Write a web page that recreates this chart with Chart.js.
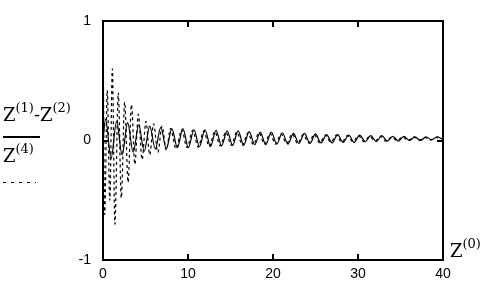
<!DOCTYPE html>
<html>
<head>
<meta charset="utf-8">
<script src="https://cdn.jsdelivr.net/npm/chart.js@4/dist/chart.umd.min.js"></script>
<style>
  html, body { margin: 0; padding: 0; background: #fff; }
  #wrap { width: 488px; height: 288px; }
</style>
</head>
<body>
<div id="wrap"><canvas id="chart" width="488" height="288"></canvas></div>
<script>
// x ticks and y ticks
const xTicks = [0, 10, 20, 30, 40];
const yTicks = [-1, 0, 1];

// Z(1) - Z(2), solid
const diffX = [0, 0.3, 0.95, 1.6, 2.25, 2.9, 3.55, 4.2, 4.85, 5.5, 6.15, 6.8, 7.45, 8.1, 8.75, 9.4,
  10.05, 10.7, 11.35, 12.0, 12.65, 13.3, 13.95, 14.6, 15.25, 15.9, 16.55, 17.2, 17.85, 18.5, 19.15, 19.8,
  20.45, 21.1, 21.75, 22.4, 23.05, 23.7, 24.35, 25.0, 25.65, 26.3, 26.95, 27.6, 28.25, 28.9, 29.55,
  30.2, 30.85, 31.5, 32.15, 32.8, 33.45, 34.1, 34.75, 35.4, 36.05, 36.7, 37.35, 38.0, 38.65, 39.3, 39.95];
const diffY = [0, 0.18, -0.15, 0.16, -0.12, 0.15, -0.1, 0.13, -0.09, 0.12, -0.07, 0.11, -0.07, 0.1, -0.06, 0.1,
  -0.06, 0.09, -0.05, 0.09, -0.05, 0.085, -0.045, 0.08, -0.04, 0.08, -0.04, 0.075, -0.035, 0.07, -0.035, 0.07,
  -0.03, 0.065, -0.03, 0.06, -0.025, 0.06, -0.025, 0.055, -0.02, 0.05, -0.02, 0.05, -0.015, 0.045, -0.015,
  0.045, -0.01, 0.04, -0.01, 0.04, -0.005, 0.035, -0.005, 0.035, 0, 0.03, 0, 0.03, 0.005, 0.03, 0.01];

// Z(4), dotted
const z4X = [0, 0.2, 0.5, 0.8, 1.1, 1.4, 1.8, 2.15, 2.55, 2.95, 3.35, 3.75, 4.15, 4.6, 5.05, 5.5, 5.95, 6.45, 6.95, 7.45,
  7.95, 8.6, 9.25, 9.9, 10.55, 11.2, 11.85, 12.5, 13.15, 13.8, 14.45, 15.1, 15.75, 16.4, 17.05, 17.7, 18.35, 19.0, 19.65,
  20.3, 20.95, 21.6, 22.25, 22.9, 23.55, 24.2, 24.85, 25.5, 26.15, 26.8, 27.45, 28.1, 28.75, 29.4,
  30.05, 30.7, 31.35, 32.0, 32.65, 33.3, 33.95, 34.6, 35.25, 35.9, 36.55, 37.2, 37.85, 38.5, 39.15, 39.8];
const z4Y = [1.0, -0.62, 0.42, -0.5, 0.6, -0.7, 0.4, -0.48, 0.32, -0.35, 0.3, -0.2, 0.22, -0.16, 0.16, -0.12, 0.14, -0.1, 0.12, -0.08,
  0.1, -0.07, 0.09, -0.06, 0.085, -0.055, 0.08, -0.05, 0.075, -0.045, 0.07, -0.04, 0.07, -0.04, 0.065, -0.035, 0.065, -0.03, 0.06,
  -0.03, 0.055, -0.025, 0.055, -0.025, 0.05, -0.02, 0.05, -0.02, 0.045, -0.015, 0.045, -0.015, 0.04, -0.01,
  0.04, -0.01, 0.035, -0.005, 0.035, -0.005, 0.03, 0, 0.03, 0, 0.03, 0.005, 0.025, 0.005, 0.025, 0.01];

const toPoints = (xs, ys) => xs.map((x, i) => ({ x, y: ys[i] }));

// Text with a superscript, returns the x after it
const supText = (ctx, base, sup, x, y) => {
  ctx.font = '18px "DejaVu Serif"';
  ctx.fillText(base, x, y);
  x += ctx.measureText(base).width;
  ctx.font = '13px "DejaVu Serif"';
  ctx.fillText(sup, x, y - 9);
  return x + ctx.measureText(sup).width;
};

// Frame, inner ticks and the labels round the plot
const framePlugin = {
  id: 'frame',
  afterDraw(chart) {
    const { ctx, chartArea: a, scales } = chart;
    ctx.save();
    ctx.strokeStyle = '#000';
    ctx.fillStyle = '#000';
    ctx.lineWidth = 2;
    ctx.strokeRect(a.left, a.top, a.right - a.left, a.bottom - a.top);

    ctx.beginPath();
    xTicks.slice(1, -1).forEach((t) => {
      const px = Math.round(scales.x.getPixelForValue(t));
      ctx.moveTo(px, a.top); ctx.lineTo(px, a.top + 6);
      ctx.moveTo(px, a.bottom); ctx.lineTo(px, a.bottom - 6);
    });
    const py = Math.round(scales.y.getPixelForValue(0));
    ctx.moveTo(a.left, py); ctx.lineTo(a.left + 6, py);
    ctx.moveTo(a.right, py); ctx.lineTo(a.right - 6, py);
    ctx.stroke();

    ctx.textBaseline = 'alphabetic';
    ctx.textAlign = 'left';
    let x = supText(ctx, 'Z', '(1)', 3, 121);
    ctx.font = '18px "DejaVu Serif"';
    ctx.fillText('-', x, 121);
    x += ctx.measureText('-').width;
    supText(ctx, 'Z', '(2)', x, 121);

    ctx.lineWidth = 2;
    ctx.beginPath();
    ctx.moveTo(3, 137); ctx.lineTo(40, 137);
    ctx.stroke();

    supText(ctx, 'Z', '(4)', 3, 162);

    ctx.lineWidth = 1;
    ctx.setLineDash([3, 5]);
    ctx.beginPath();
    ctx.moveTo(3, 182.5); ctx.lineTo(36, 182.5);
    ctx.stroke();
    ctx.setLineDash([]);

    supText(ctx, 'Z', '(0)', 450, 257);
    ctx.restore();
  }
};

const ctx = document.getElementById('chart').getContext('2d');
new Chart(ctx, {
  type: 'line',
  data: {
    datasets: [
      {
        label: 'Z(1)-Z(2)',
        data: toPoints(diffX, diffY),
        borderColor: '#000',
        borderWidth: 1.2,
        pointRadius: 0,
        fill: false,
        cubicInterpolationMode: 'monotone',
      },
      {
        label: 'Z(4)',
        data: toPoints(z4X, z4Y),
        borderColor: '#000',
        borderWidth: 1.2,
        borderDash: [3, 3],
        pointRadius: 0,
        fill: false,
        cubicInterpolationMode: 'monotone',
      },
    ],
  },
  options: {
    responsive: false,
    animation: false,
    layout: { padding: { top: 21, right: 45, left: 0, bottom: 0 } },
    plugins: { legend: { display: false }, tooltip: { enabled: false } },
    scales: {
      x: {
        type: 'linear',
        min: 0,
        max: 40,
        afterBuildTicks: (s) => { s.ticks = xTicks.map((v) => ({ value: v })); },
        afterFit: (s) => { s.height = 28; },
        grid: { display: false, drawTicks: false },
        border: { display: false },
        ticks: { color: '#000', padding: 6, font: { family: 'Liberation Sans', size: 14 } },
      },
      y: {
        type: 'linear',
        min: -1,
        max: 1,
        afterBuildTicks: (s) => { s.ticks = yTicks.map((v) => ({ value: v })); },
        afterFit: (s) => { s.width = 103; },
        grid: { display: false, drawTicks: false },
        border: { display: false },
        ticks: { color: '#000', padding: 12, font: { family: 'Liberation Sans', size: 14 } },
      },
    },
  },
  plugins: [framePlugin],
});
</script>
</body>
</html>
